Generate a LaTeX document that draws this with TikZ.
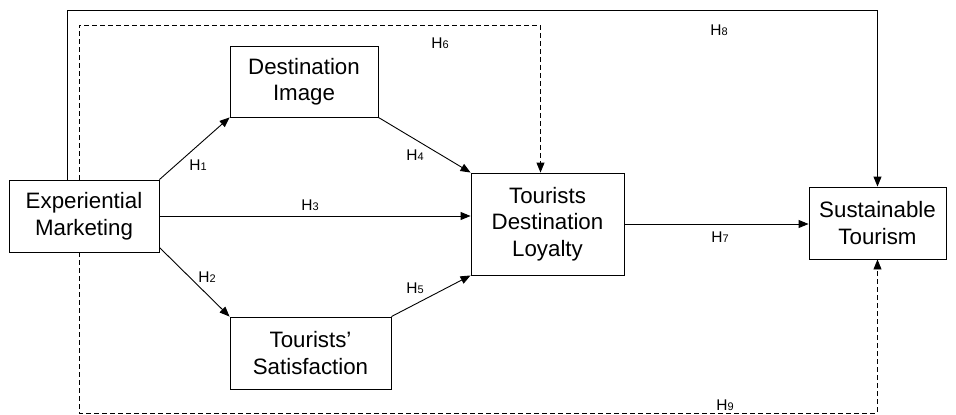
\documentclass[tikz,border=0pt]{standalone}
\usepackage{fontspec}
\setmainfont{Liberation Sans}
\usepackage{tikz}
\usetikzlibrary{arrows.meta, positioning, calc}
\newcommand{\hsub}[1]{{\fontsize{11}{11}\selectfont\raisebox{-0.5pt}{#1}}}
\tikzset{
  factor/.style={draw, line width=0.9pt, align=center, inner sep=0pt, font=\fontsize{22.3}{26.5}\selectfont},
  hlbl/.style={font=\fontsize{15.5}{16}\selectfont, inner sep=0pt},
  link/.style={line width=0.9pt, -{Triangle[length=10pt,width=8pt]}},
  dashlink/.style={link, dash pattern=on 5pt off 3pt}
}

\begin{document}
\begin{tikzpicture}[x=1pt, y=-1pt]
    \useasboundingbox (0,0) rectangle (956,415);
    % constructs
    \node[factor, minimum width=150pt, minimum height=72pt] (exp) at (84,216) {Experiential\\Marketing};
    \node[factor, minimum width=148pt, minimum height=71pt] (img) at (304,81.5) {Destination\\Image};
    \node[factor, minimum width=161pt, minimum height=72pt] (sat) at (310.5,353) {Tourists'\\Satisfaction};
    \node[factor, minimum width=153pt, minimum height=102pt] (loyal) at (547.5,224) {Tourists\\Destination\\Loyalty};
    \node[factor, minimum width=137pt, minimum height=72pt] (sust) at (877.5,223) {Sustainable\\Tourism};
    % corners of the outer paths
    \coordinate (topsolid) at (67,10);
    \coordinate (topdash) at (79,25);
    \coordinate (botdash) at (79,413);
    % direct paths
    \draw[link] (exp.north east) -- (img.south west);
    \draw[link] ([yshift=5pt]exp.south east) -- (sat.north west);
    \draw[link] (exp.east) -- (exp.east -| loyal.west);
    \draw[link] (img.south east) -- (loyal.north west);
    \draw[link] (sat.north east) -- (loyal.south west);
    \draw[link] (loyal.east) -- (loyal.east -| sust.west);
    % long paths
    \draw[link] (exp.north -| topsolid) -- (topsolid) -| (sust.north);
    \draw[dashlink] (exp.north -| topdash) -- (topdash) -| ([xshift=-7pt]loyal.north);
    \draw[dashlink] (exp.south -| botdash) -- (botdash) -| (sust.south);
    % hypothesis labels
    \foreach \n/\x/\y in {1/198/165, 2/207/277, 3/310/205, 4/415/155, 5/415/288, 6/440/43, 7/720/237, 8/719/30, 9/725/405}
      \node[hlbl] (h\n) at (\x,\y) {H\hsub{\n}};
\end{tikzpicture}
\end{document}
